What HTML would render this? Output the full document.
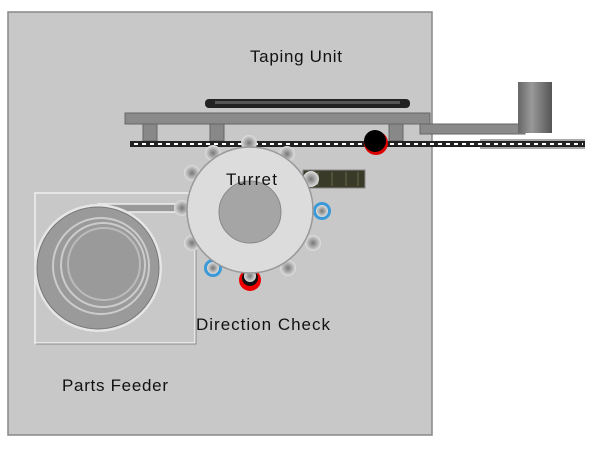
<!DOCTYPE html>
<html><head><style>body{margin:0;background:#fff}svg{display:block}</style></head><body>
<svg width="600" height="450" xmlns="http://www.w3.org/2000/svg" font-family="Liberation Sans, sans-serif">
<defs>
<radialGradient id="nz" cx="0.5" cy="0.5" r="0.5"><stop offset="0" stop-color="#777"/><stop offset="0.5" stop-color="#aaa"/><stop offset="1" stop-color="#e0e0e0"/></radialGradient>
<linearGradient id="cyl" x1="0" x2="1"><stop offset="0" stop-color="#666"/><stop offset="0.4" stop-color="#999"/><stop offset="1" stop-color="#555"/></linearGradient>
</defs>
<rect x="8" y="12" width="424" height="423" fill="#c8c8c8" stroke="#888" stroke-width="1.5"/>
<rect x="35" y="193" width="160" height="150" fill="none" stroke="#f0f0f0" stroke-width="1.5"/>
<path d="M36 344 H196 V193" fill="none" stroke="#888" stroke-width="1"/>
<rect x="98" y="204" width="88" height="8" fill="#999" stroke="#eee" stroke-width="1.5"/>
<circle cx="98" cy="268" r="64" fill="#e6e6e6"/>
<circle cx="98" cy="268" r="61" fill="#9a9a9a" stroke="#777"/>
<circle cx="101" cy="266" r="48" fill="none" stroke="#ccc" stroke-width="2"/>
<circle cx="103" cy="265" r="42" fill="none" stroke="#ccc" stroke-width="2"/>
<circle cx="104" cy="264" r="36" fill="#9a9a9a" stroke="#bbb" stroke-width="2"/>
<text x="62" y="391" font-size="17" fill="#111" textLength="106">Parts Feeder</text>
<rect x="205" y="99" width="205" height="9" rx="4" fill="#222"/>
<rect x="215" y="101" width="185" height="3" fill="#555"/>
<rect x="125" y="113" width="305" height="11" fill="#8a8a8a" stroke="#666"/>
<rect x="420" y="124" width="105" height="10" fill="#8a8a8a" stroke="#666"/>
<rect x="143" y="124" width="14" height="17" fill="#888" stroke="#666"/>
<rect x="210" y="124" width="14" height="17" fill="#888" stroke="#666"/>
<rect x="389" y="124" width="14" height="17" fill="#888" stroke="#666"/>
<rect x="518" y="82" width="34" height="51" fill="url(#cyl)"/>
<rect x="480" y="139" width="105" height="10" fill="#aaa"/>
<rect x="130" y="141" width="455" height="6" fill="#222"/>
<line x1="134" y1="144" x2="583" y2="144" stroke="#fff" stroke-width="2" stroke-dasharray="4 4"/>
<circle cx="376" cy="143" r="12" fill="#d00"/>
<circle cx="375" cy="141" r="11" fill="#000"/>
<rect x="303" y="170" width="62" height="18" fill="#3a3a28" stroke="#888"/>
<path d="M318 172v14M332 172v14M346 172v14M358 172v14" stroke="#6a6a50"/>
<g fill="url(#nz)">
<circle cx="249" cy="143" r="8"/><circle cx="213" cy="153" r="8"/><circle cx="287" cy="154" r="8"/><circle cx="192" cy="173" r="8"/><circle cx="311" cy="179" r="8"/><circle cx="182" cy="208" r="8"/><circle cx="192" cy="243" r="8"/><circle cx="313" cy="243" r="8"/><circle cx="288" cy="268" r="8"/>
</g>
<circle cx="322" cy="211" r="9" fill="#3a9ad8"/><circle cx="322" cy="211" r="6" fill="url(#nz)"/>
<circle cx="213" cy="268" r="9" fill="#3a9ad8"/><circle cx="213" cy="268" r="6" fill="url(#nz)"/>
<circle cx="250" cy="280" r="11" fill="#e00"/><circle cx="250" cy="278" r="8" fill="#111"/><circle cx="250" cy="276" r="6" fill="url(#nz)"/>
<circle cx="250" cy="210" r="63" fill="#dcdcdc" stroke="#999" stroke-width="1.5"/>
<circle cx="250" cy="212" r="31" fill="#a5a5a5" stroke="#888"/>
<text x="226" y="185" font-size="17" fill="#111" textLength="51">Turret</text>
<text x="196" y="330" font-size="17" fill="#111" textLength="134">Direction Check</text>
<text x="250" y="62" font-size="17" fill="#111" textLength="92">Taping Unit</text>
</svg>
</body></html>
